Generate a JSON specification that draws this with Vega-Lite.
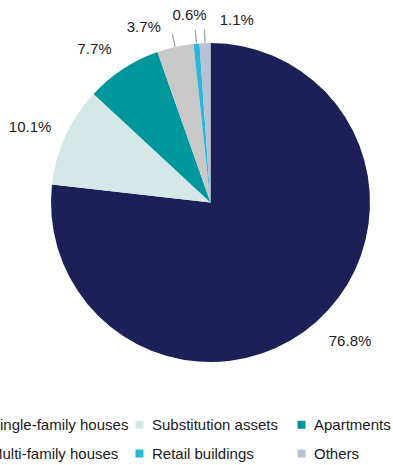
{
  "$schema": "https://vega.github.io/schema/vega-lite/v6.json",
  "width": 365,
  "height": 405,
  "autosize": "none",
  "padding": {"left": 28, "top": 0, "right": 0, "bottom": 60},
  "background": "white",
  "config": {"view": {"stroke": null}, "font": "Liberation Sans"},
  "data": {
    "values": [
      {"category": "Single-family houses", "share": 76.8, "label": "76.8%", "rank": 1},
      {"category": "Substitution assets", "share": 10.1, "label": "10.1%", "rank": 2},
      {"category": "Apartments", "share": 7.7, "label": "7.7%", "rank": 3},
      {"category": "Multi-family houses", "share": 3.7, "label": "3.7%", "rank": 4},
      {"category": "Retail buildings", "share": 0.6, "label": "0.6%", "rank": 5},
      {"category": "Others", "share": 1.1, "label": "1.1%", "rank": 6}
    ]
  },
  "encoding": {
    "theta": {"field": "share", "type": "quantitative", "stack": true},
    "order": {"field": "rank", "type": "quantitative", "sort": "ascending"}
  },
  "layer": [
    {
      "mark": {"type": "arc", "radius": 159.5},
      "encoding": {
        "color": {
          "field": "category",
          "type": "nominal",
          "scale": {
            "domain": ["Single-family houses", "Substitution assets", "Apartments", "Multi-family houses", "Retail buildings", "Others"],
            "range": ["#1b2157", "#d4e9e7", "#00979c", "#c9c9c9", "#29b6d9", "#b7c3d4"]
          },
          "legend": {
            "title": null,
            "orient": "none",
            "legendX": -58,
            "legendY": 417,
            "direction": "horizontal",
            "columns": 3,
            "gridAlign": "all",
            "columnPadding": 3,
            "rowPadding": 13,
            "symbolType": "square",
            "symbolSize": 64,
            "symbolStrokeWidth": 0,
            "labelFontSize": 15,
            "labelFont": "Liberation Sans",
            "labelOffset": 5,
            "labelColor": "#1a1a1a",
            "labelLimit": 300,
            "padding": 0
          }
        }
      }
    },
    {
      "mark": {"type": "arc", "radius": 173, "radius2": 160, "padAngle": 3, "fillOpacity": 0, "stroke": "#a6a6a6", "strokeWidth": 1},
      "encoding": {
        "strokeOpacity": {
          "condition": {"test": "datum.share < 5", "value": 1},
          "value": 0
        }
      }
    },
    {
      "mark": {"type": "text", "radius": 193, "dx": 11, "dy": -5, "fontSize": 15, "font": "Liberation Sans", "fill": "#1a1a1a"},
      "encoding": {"text": {"condition": {"test": "datum.category === 'Single-family houses'", "field": "label"}, "value": ""}}
    },
    {
      "mark": {"type": "text", "radius": 193, "dx": -5, "dy": 5, "fontSize": 15, "font": "Liberation Sans", "fill": "#1a1a1a"},
      "encoding": {"text": {"condition": {"test": "datum.category === 'Substitution assets'", "field": "label"}, "value": ""}}
    },
    {
      "mark": {"type": "text", "radius": 193, "dx": -10, "dy": 8, "fontSize": 15, "font": "Liberation Sans", "fill": "#1a1a1a"},
      "encoding": {"text": {"condition": {"test": "datum.category === 'Apartments'", "field": "label"}, "value": ""}}
    },
    {
      "mark": {"type": "text", "radius": 193, "dx": -24, "dy": 13, "fontSize": 15, "font": "Liberation Sans", "fill": "#1a1a1a"},
      "encoding": {"text": {"condition": {"test": "datum.category === 'Multi-family houses'", "field": "label"}, "value": ""}}
    },
    {
      "mark": {"type": "text", "radius": 193, "dx": -4, "dy": 5, "fontSize": 15, "font": "Liberation Sans", "fill": "#1a1a1a"},
      "encoding": {"text": {"condition": {"test": "datum.category === 'Retail buildings'", "field": "label"}, "value": ""}}
    },
    {
      "mark": {"type": "text", "radius": 193, "dx": 33, "dy": 10, "fontSize": 15, "font": "Liberation Sans", "fill": "#1a1a1a"},
      "encoding": {"text": {"condition": {"test": "datum.category === 'Others'", "field": "label"}, "value": ""}}
    }
  ]
}
